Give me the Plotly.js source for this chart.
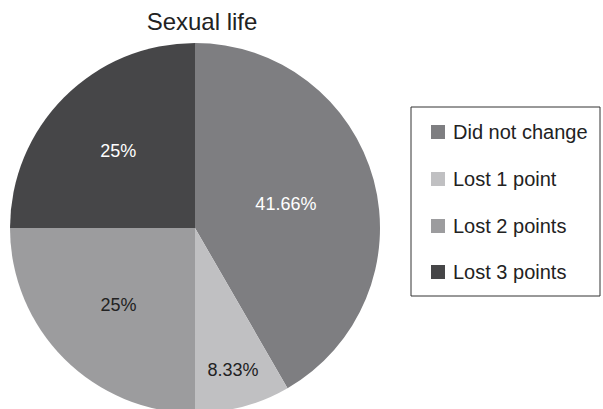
<!DOCTYPE html>
<html>
<head>
<meta charset="utf-8">
<script src="https://cdn.plot.ly/plotly-3.0.1.min.js"></script>
<style>
html,body{margin:0;padding:0;overflow:hidden;background:#fff;}
#chart{width:603px;height:413px;}
</style>
</head>
<body>
<div id="chart"></div>
<script>
var categories = ["Did not change", "Lost 1 point", "Lost 2 points", "Lost 3 points"];
var shares = [41.66, 8.33, 25, 25];
var labelsText = ["41.66%", "8.33%", "25%", "25%"];
var colors = ["#7e7e81", "#c0c0c2", "#9c9c9e", "#464648"];
var textColors = ["#ffffff", "#222222", "#222222", "#ffffff"];
var chartTitle = "Sexual life";

var W = 603, H = 413, ML = 10, MT = 43, MR = 0, MB = 0;
var PW = W - ML - MR, PH = H - MT - MB;
function px(x){ return (x - ML) / PW; }
function py(y){ return (H - MB - y) / PH; }

var trace = {
  type: "pie",
  labels: categories,
  values: shares,
  text: labelsText,
  textinfo: "text",
  textposition: "inside",
  insidetextorientation: "horizontal",
  insidetextfont: {family: "Liberation Sans, Arial, sans-serif", size: 18, color: textColors},
  marker: {colors: colors, line: {width: 0}},
  sort: false,
  direction: "clockwise",
  rotation: 0,
  hoverinfo: "none",
  showlegend: false,
  domain: {x: [0, 370 / PW], y: [0, 1]}
};

var shapes = [{
  type: "rect", xref: "paper", yref: "paper",
  x0: px(411), x1: px(600), y0: py(296), y1: py(107),
  line: {color: "#333333", width: 1}, fillcolor: "rgba(0,0,0,0)"
}];
var annotations = [];
var rowY = [132, 179, 226, 272];
for (var i = 0; i < categories.length; i++) {
  shapes.push({
    type: "rect", xref: "paper", yref: "paper",
    x0: px(431), x1: px(445), y0: py(rowY[i] + 7), y1: py(rowY[i] - 7),
    line: {width: 0}, fillcolor: colors[i]
  });
  annotations.push({
    xref: "paper", yref: "paper", x: px(451), y: py(rowY[i]),
    xanchor: "left", yanchor: "middle", showarrow: false,
    text: categories[i],
    font: {family: "Liberation Sans, Arial, sans-serif", size: 20, color: "#222222"}
  });
}

var layout = {
  width: W, height: H,
  margin: {l: ML, r: MR, t: MT, b: MB, pad: 0},
  paper_bgcolor: "#ffffff",
  plot_bgcolor: "#ffffff",
  title: {
    text: chartTitle,
    font: {family: "Liberation Sans, Arial, sans-serif", size: 24, color: "#222222"},
    xref: "paper", x: px(202), xanchor: "center",
    yref: "container", y: 1 - 22 / H, yanchor: "middle"
  },
  shapes: shapes,
  annotations: annotations,
  showlegend: false
};

Plotly.newPlot("chart", [trace], layout, {displayModeBar: false, staticPlot: true});
</script>
</body>
</html>
